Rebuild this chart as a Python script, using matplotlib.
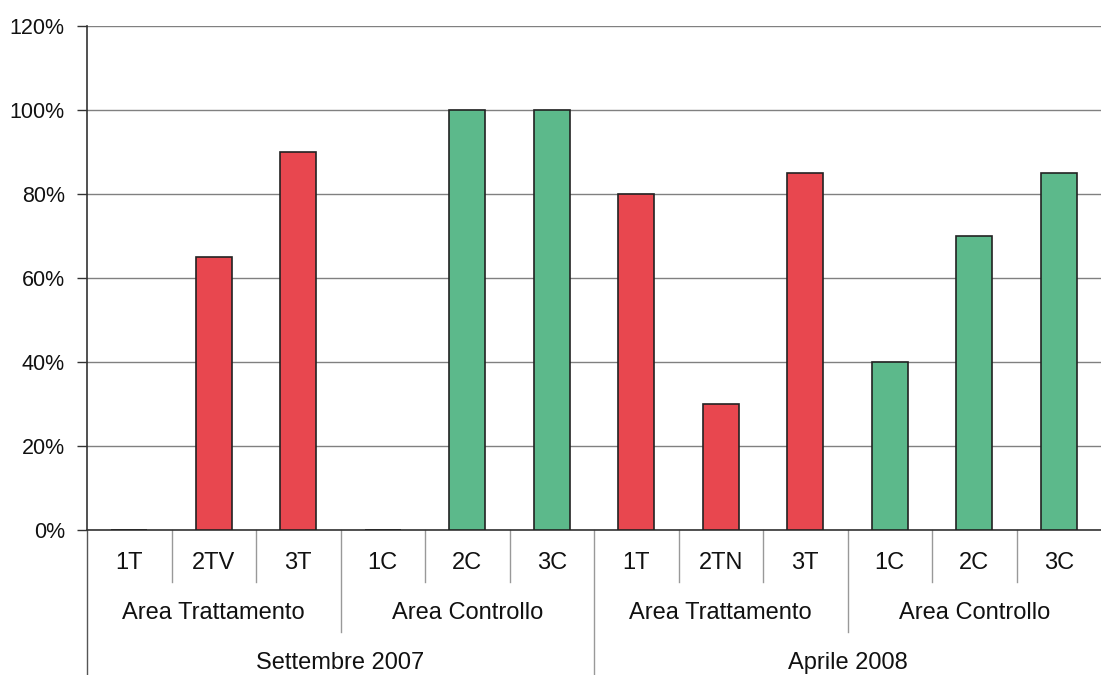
import matplotlib
matplotlib.use("Agg")
import matplotlib.pyplot as plt
import matplotlib.transforms as mtransforms
from matplotlib.ticker import FuncFormatter

plt.rcParams['font.family'] = ['Liberation Sans', 'DejaVu Sans']

# Data
sites = ["1T", "2TV", "3T", "1C", "2C", "3C", "1T", "2TN", "3T", "1C", "2C", "3C"]
areas = ["Area Trattamento", "Area Controllo", "Area Trattamento", "Area Controllo"]
periods = ["Settembre 2007", "Aprile 2008"]
values = [0, 65, 90, 0, 100, 100, 80, 30, 85, 40, 70, 85]
area_kind = ["T", "T", "T", "C", "C", "C", "T", "T", "T", "C", "C", "C"]

RED = "#e8474f"
GREEN = "#5cb98b"
colors = [RED if k == "T" else GREEN for k in area_kind]

fig = plt.figure(figsize=(11.01, 6.75), dpi=100)
ax = fig.add_axes([87/1101, 1-530/675, 1-87/1101, 504/675])

x = list(range(len(sites)))
ax.bar(x, values, width=0.43, color=colors, edgecolor="#222222", linewidth=1.2, zorder=3)

ax.set_xlim(-0.5, 11.5)
ax.set_ylim(0, 120)
ax.set_yticks(range(0, 121, 20))
ax.yaxis.set_major_formatter(FuncFormatter(lambda v, p: f"{int(v)}%"))
ax.grid(axis="y", color="#808080", linewidth=1.0, zorder=0)
ax.tick_params(axis="y", length=7, width=1, pad=9, labelsize=15.5, colors="#333333", labelcolor="#111111")
ax.tick_params(axis="x", length=0, labelbottom=False)
for s in ["top", "right"]:
    ax.spines[s].set_visible(False)
ax.spines["left"].set_color("#333333")
ax.spines["bottom"].set_color("#333333")
ax.spines["left"].set_linewidth(1.2)
ax.spines["bottom"].set_linewidth(1.2)

trans = mtransforms.blended_transform_factory(ax.transData, ax.transAxes)

FS = 17
# Level 1 labels
for i, s in enumerate(sites):
    ax.text(i, -0.066, s, transform=trans, ha="center", va="center", fontsize=FS, color="#111111")
# Level 2 labels
for j, a in enumerate(areas):
    ax.text(3*j + 1, -0.165, a, transform=trans, ha="center", va="center", fontsize=FS, color="#111111")
# Level 3 labels
for k, p in enumerate(periods):
    ax.text(6*k + 2.5, -0.263, p, transform=trans, ha="center", va="center", fontsize=FS, color="#111111")

# Separators
y1, y2, y3 = -0.103, -0.202, -0.29
for b in range(0, 12):
    xb = b - 0.5
    if b % 6 == 0:
        yend = y3
    elif b % 3 == 0:
        yend = y2
    else:
        yend = y1
    col = "#555555" if b == 0 else "#999999"
    ax.plot([xb, xb], [0, yend], transform=trans, color=col, linewidth=1.0, clip_on=False)

fig.savefig("out.png", dpi=100)
